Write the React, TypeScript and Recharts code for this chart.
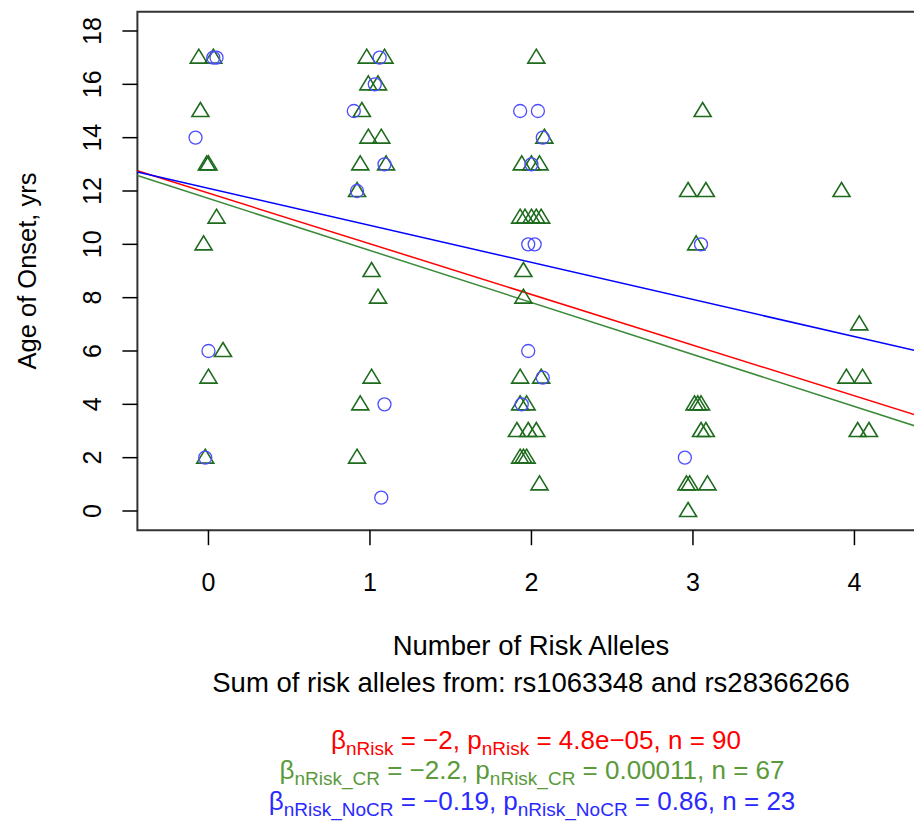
import { ScatterChart, Scatter, XAxis, YAxis, ReferenceArea, ReferenceLine } from 'recharts';

// carriers with CR (green triangles)
const crAlleles = [
  -0.06, 0.03, -0.05, -0.01, 0.0, 0.05, -0.03, 0.09, 0.0, -0.02,
  0.98, 1.09, 0.99, 1.05, 0.95, 0.99, 1.07, 0.94, 1.1, 0.92, 1.01, 1.05, 1.01, 0.94, 0.92,
  2.03, 2.08, 1.94, 2.0, 2.05, 1.93, 1.96, 2.0, 2.03, 2.06, 1.95, 1.95, 1.93, 2.06, 1.93, 1.97,
  1.91, 1.98, 2.03, 1.93, 1.95, 1.97, 2.05,
  3.06, 2.97, 3.08, 3.02, 3.01, 3.03, 3.05, 3.05, 3.08, 2.96, 2.98, 3.09, 2.97,
  3.92, 4.03, 3.95, 4.05, 4.02, 4.09,
];
const crAge = [
  17, 17, 15, 13, 13, 11, 10, 6, 5, 2,
  17, 17, 16, 16, 15, 14, 14, 13, 13, 12, 9, 8, 5, 4, 2,
  17, 14, 13, 13, 13, 11, 11, 11, 11, 11, 9, 8, 5, 5, 4, 4,
  3, 3, 3, 2, 2, 2, 1,
  15, 12, 12, 10, 4, 4, 4, 3, 3, 1, 1, 1, 0,
  12, 7, 5, 5, 3, 3,
];

// no CR (blue circles)
const noCrAlleles = [
  0.03, 0.05, -0.08, 0.0, -0.02,
  1.06, 1.03, 0.9, 1.09, 0.92, 1.09, 1.07,
  1.93, 2.04, 2.07, 2.0, 1.98, 2.02, 1.98, 2.07, 1.94,
  3.05, 2.95,
];
const noCrAge = [
  17, 17, 14, 6, 2,
  17, 16, 15, 13, 12, 4, 0.5,
  15, 15, 14, 13, 10, 10, 6, 5, 4,
  10, 2,
];

// regression fits: all, CR, NoCR
const fitColors = ['#ff0000', '#3a8a3a', '#0000ff'];
const fitIntercepts = [11.92, 11.72, 12.1];
const fitSlopes = [-1.9, -1.95, -1.39];

const xTicks = [0, 1, 2, 3, 4];
const yTicks = [0, 2, 4, 6, 8, 10, 12, 14, 16, 18];
const xDomain = [-0.44, 4.44];
const yDomain = [-0.72, 18.72];

const crData = crAlleles.map((x, i) => ({ x, y: crAge[i] }));
const noCrData = noCrAlleles.map((x, i) => ({ x, y: noCrAge[i] }));

const FONT = '"Liberation Sans", Arial, Helvetica, sans-serif';

const Triangle = (props: any) => {
  const { cx, cy } = props;
  return (
    <path
      d={`M${cx},${cy - 8.5} L${cx + 8.5},${cy + 5.5} L${cx - 8.5},${cy + 5.5} Z`}
      fill="none"
      stroke="#1e6b1e"
      strokeWidth={1.6}
    />
  );
};

const Circle = (props: any) => {
  const { cx, cy } = props;
  return <circle cx={cx} cy={cy} r={6.5} fill="none" stroke="#4d4dff" strokeWidth={1.3} />;
};

const XTick = (props: any) => {
  const { x, payload } = props;
  return (
    <text x={x} y={582} textAnchor="middle" dominantBaseline="central" fontSize={25} fontFamily={FONT} fill="#000">
      {payload.value}
    </text>
  );
};

const YTick = (props: any) => {
  const { y, payload } = props;
  return (
    <text
      transform={`translate(92,${y}) rotate(-90)`}
      textAnchor="middle"
      dominantBaseline="central"
      fontSize={25}
      fontFamily={FONT}
      fill="#000"
    >
      {payload.value}
    </text>
  );
};

export default function App() {
  return (
    <div style={{ position: 'absolute', left: 0, top: 0, width: 914, height: 823, overflow: 'hidden', background: '#fff' }}>
      <ScatterChart width={940} height={600} margin={{ top: 11.8, left: 77.4, right: 14.5, bottom: 9.8 }}>
        <XAxis
          type="number"
          dataKey="x"
          domain={xDomain}
          ticks={xTicks}
          allowDataOverflow
          axisLine={false}
          tickSize={15}
          tickLine={{ stroke: '#000', strokeWidth: 1.5 }}
          tick={<XTick />}
          height={60}
        />
        <YAxis
          type="number"
          dataKey="y"
          domain={yDomain}
          ticks={yTicks}
          allowDataOverflow
          axisLine={false}
          tickSize={15}
          tickLine={{ stroke: '#000', strokeWidth: 1.5 }}
          tick={<YTick />}
          width={60}
        />
        <ReferenceArea
          x1={xDomain[0]}
          x2={xDomain[1]}
          y1={yDomain[0]}
          y2={yDomain[1]}
          fill="none"
          fillOpacity={0}
          stroke="#333"
          strokeWidth={2}
          ifOverflow="visible"
        />
        <Scatter data={crData} shape={<Triangle />} isAnimationActive={false} />
        <Scatter data={noCrData} shape={<Circle />} isAnimationActive={false} />
        {fitIntercepts.map((a, i) => (
          <ReferenceLine
            key={i}
            segment={[
              { x: xDomain[0], y: a + fitSlopes[i] * xDomain[0] },
              { x: xDomain[1], y: a + fitSlopes[i] * xDomain[1] },
            ]}
            stroke={fitColors[i]}
            strokeWidth={1.5}
            ifOverflow="visible"
          />
        ))}
      </ScatterChart>
      <svg width={914} height={823} style={{ position: 'absolute', left: 0, top: 0, pointerEvents: 'none' }} fontFamily={FONT}>
        <text transform="translate(27,271) rotate(-90)" textAnchor="middle" dominantBaseline="central" fontSize={25.5} fill="#000">
          Age of Onset, yrs
        </text>
        <text x={531} y={645} textAnchor="middle" dominantBaseline="central" fontSize={27.5} fill="#000">
          Number of Risk Alleles
        </text>
        <text x={531} y={682} textAnchor="middle" dominantBaseline="central" fontSize={27.5} fill="#000">
          Sum of risk alleles from: rs1063348 and rs28366266
        </text>
        <text x={536} y={749} textAnchor="middle" fontSize={26} fill="#ff0000">
          β<tspan dy={6} fontSize={19}>nRisk</tspan>
          <tspan dy={-6}> = −2, p</tspan>
          <tspan dy={6} fontSize={19}>nRisk</tspan>
          <tspan dy={-6}> = 4.8e−05, n = 90</tspan>
        </text>
        <text x={532} y={779} textAnchor="middle" fontSize={26} fill="#5a9a3a">
          β<tspan dy={6} fontSize={19}>nRisk_CR</tspan>
          <tspan dy={-6}> = −2.2, p</tspan>
          <tspan dy={6} fontSize={19}>nRisk_CR</tspan>
          <tspan dy={-6}> = 0.00011, n = 67</tspan>
        </text>
        <text x={532} y={810} textAnchor="middle" fontSize={26} fill="#2a2aff">
          β<tspan dy={6} fontSize={19}>nRisk_NoCR</tspan>
          <tspan dy={-6}> = −0.19, p</tspan>
          <tspan dy={6} fontSize={19}>nRisk_NoCR</tspan>
          <tspan dy={-6}> = 0.86, n = 23</tspan>
        </text>
      </svg>
    </div>
  );
}
